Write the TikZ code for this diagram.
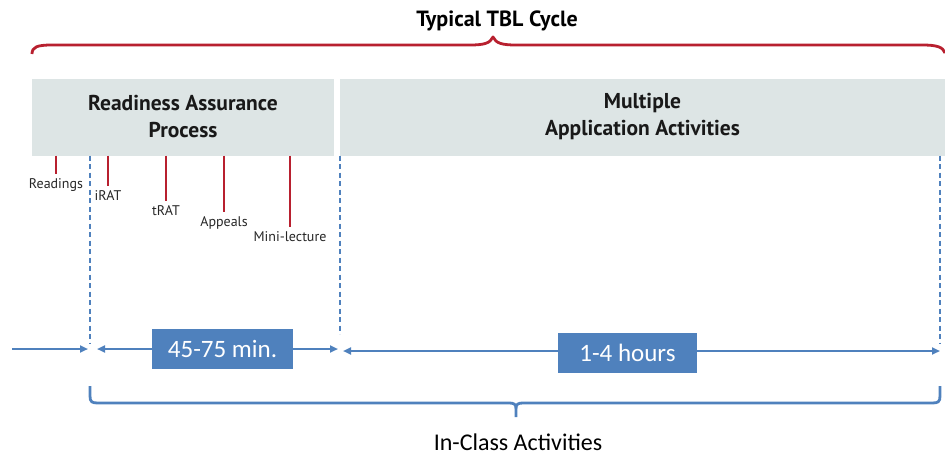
\documentclass[tikz,border=0pt]{standalone}
\usepackage{fontspec}
\setmainfont{PT Sans}
\newfontfamily\calib{Carlito}
\usetikzlibrary{arrows.meta}
\definecolor{tblred}{HTML}{B8202F}
\definecolor{tblblue}{HTML}{4F81BD}
\definecolor{tblgray}{HTML}{DDE5E5}
\tikzset{
  phase/.style={fill=tblgray, inner sep=0pt, align=center, font=\fontsize{21.5}{27}\selectfont\bfseries, text=black!90},
  ticklabel/.style={anchor=north, inner sep=1pt, font=\fontsize{14}{16}\selectfont, text=black!85},
  tickline/.style={draw=tblred, line width=2.6pt},
  guide/.style={draw=tblblue, line width=1.4pt, dash pattern=on 5pt off 3.5pt},
  span/.style={draw=tblblue, line width=2.2pt, -{Triangle[length=8pt,width=7pt]}},
  timebox/.style={fill=tblblue, text=white, inner sep=0pt, font=\calib\fontsize{25}{28}\selectfont},
  bracket/.style={line width=2.8pt, line join=round}
}
\begin{document}
\begin{tikzpicture}[x=1pt,y=-1pt]
\useasboundingbox (0,0) rectangle (945,455);

% title and cycle brace
\node[font=\fontsize{22}{24}\selectfont\bfseries] (title) at (497,21) {Typical TBL Cycle};
\draw[bracket, draw=tblred] (32,54) .. controls (32,47) and (37,45) .. (52,45) -- (470,45)
  .. controls (485,45) and (490,43) .. (493,37)
  .. controls (496,43) and (501,45) .. (516,45) -- (922,45)
  .. controls (937,45) and (943,47) .. (945,53);

% phase boxes
\node[phase, minimum width=302pt, minimum height=77pt] (rap) at (183,117) {Readiness Assurance\\Process};
\node[phase, minimum width=605pt, minimum height=77pt] (app) at (642.5,117) {Multiple\\Application Activities};

% RAP steps
\node[ticklabel] (rd) at (56,177) {Readings};
\node[ticklabel] (irat) at (108,189) {iRAT};
\node[ticklabel] (trat) at (166,204) {tRAT};
\node[ticklabel] (apl) at (224,215) {Appeals};
\node[ticklabel] (ml) at (290,230) {Mini-lecture};
\foreach \n in {rd,irat,trat,apl,ml}
  \draw[tickline] (rap.south -| \n.north) -- ([yshift=3pt]\n.north);

% phase boundaries
\coordinate (g1t) at (90,155.5);  \coordinate (g1b) at (90,344);
\coordinate (g2t) at (340,155.5); \coordinate (g2b) at (340,334);
\coordinate (g3t) at (940,155.5); \coordinate (g3b) at (940,344);
\draw[guide] (g1t) -- (g1b);
\draw[guide] (g2t) -- (g2b);
\draw[guide] (g3t) -- (g3b);

% durations
\node[timebox, minimum width=141pt, minimum height=40pt] (t1) at (222.5,348.5) {45-75 min.};
\node[timebox, minimum width=139pt, minimum height=40pt] (t2) at (627.5,353) {1-4 hours};
\coordinate (a0) at (12,349);  \coordinate (a1) at (88,349);
\coordinate (a2) at (97,349);  \coordinate (a3) at (338,349);
\coordinate (a4) at (343,351); \coordinate (a5) at (940,351);
\draw[span] (a0) -- (a1);
\draw[span] (t1.west |- a2) -- (a2);
\draw[span] (t1.east |- a3) -- (a3);
\draw[span] (t2.west |- a4) -- (a4);
\draw[span] (t2.east |- a5) -- (a5);

% in-class brace
\node[font=\calib\fontsize{24}{28}\selectfont] (inclass) at (518,442) {In-Class Activities};
\draw[bracket, draw=tblblue] (90,386) -- (90,396) .. controls (90,402) and (92,403) .. (98,403)
  -- (509,403) .. controls (514,403) and (516,404) .. (516,409) -- (516,417)
  (516,409) .. controls (516,404) and (518,403) .. (523,403)
  -- (932,403) .. controls (938,403) and (940,402) .. (940,396) -- (940,386);
\end{tikzpicture}
\end{document}
